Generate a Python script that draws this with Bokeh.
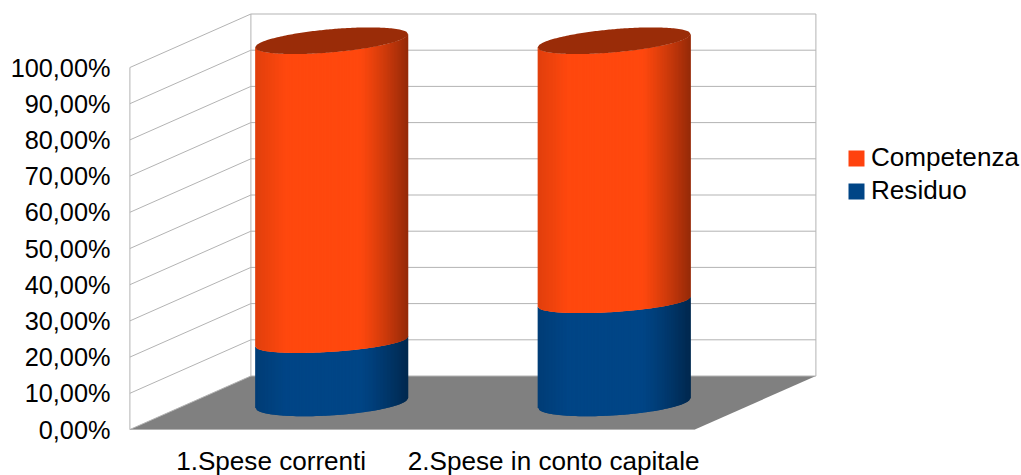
import math

from bokeh.embed import file_html
from bokeh.models import FixedTicker, Legend, LegendItem
from bokeh.plotting import figure
from bokeh.resources import INLINE

# Chart data (percent of each spending category)
categories = ["1.Spese correnti", "2.Spese in conto capitale"]
residuo = [16.9, 27.9]
competenza = [83.1, 72.1]
ticks = [0, 10, 20, 30, 40, 50, 60, 70, 80, 90, 100]
tick_labels = {t: f"{t},00%" for t in ticks}

ORANGE = (255, 72, 14)
BLUE = (0, 69, 134)
FLOOR = "#808080"
GRID = "#b3b3b3"
FONT = "Liberation Sans"
TICK_SIZE = "25.3px"
LABEL_SIZE = "26.1px"

# Oblique projection of the 3D box: a category is one x unit, depth 1 is the back wall
PX_PER_CAT = 282.5
PX_PER_PCT = 3.62
DEPTH_X = 121 / PX_PER_CAT
DEPTH_Y = 53.5 / PX_PER_PCT
RADIUS = 76.5 / PX_PER_CAT
N_CATS = len(categories)

# Rim ellipses, as (half rise from left tip to right tip, half minor axis) in screen pixels
RIM_BASE = (4.85, 12.6)
RIM_JOINT = (5.0, 10.2)
RIM_TOP = (6.6, 11.6)


def project(cat, pct, depth=0.0):
    return cat + depth * DEPTH_X, pct + depth * DEPTH_Y


W, H = 1021, 475
FRAME_LEFT = 110
ZERO_X, ZERO_Y = 129.4, 429
CATEGORY_ROW_PCT = -8.7  # category captions sit just under the floor

p = figure(
    width=W,
    height=H,
    output_backend="svg",
    toolbar_location=None,
    x_range=(0.5 + (FRAME_LEFT - ZERO_X) / PX_PER_CAT, 0.5 + (W - ZERO_X) / PX_PER_CAT),
    y_range=((ZERO_Y - H) / PX_PER_PCT, ZERO_Y / PX_PER_PCT),
    min_border_left=FRAME_LEFT,
    min_border_right=0,
    min_border_top=0,
    min_border_bottom=0,
    outline_line_color=None,
    background_fill_color="white",
    border_fill_color="white",
)
p.grid.visible = False
p.xaxis.visible = False

# Value axis
p.yaxis.ticker = FixedTicker(ticks=ticks)
p.yaxis.major_label_overrides = tick_labels
p.yaxis.axis_line_color = None
p.yaxis.major_tick_line_color = None
p.yaxis.minor_tick_line_color = None
p.yaxis.major_tick_in = 0
p.yaxis.major_tick_out = 0
p.yaxis.minor_tick_out = 0
p.yaxis.major_label_standoff = 0
p.yaxis.major_label_text_font = FONT
p.yaxis.major_label_text_font_size = TICK_SIZE
p.yaxis.major_label_text_color = "#000000"

# Category captions
cat_positions = list(range(1, N_CATS + 1))
p.text(
    x=cat_positions,
    y=[CATEGORY_ROW_PCT] * N_CATS,
    text=categories,
    text_font={"value": FONT},
    text_font_size={"value": LABEL_SIZE},
    text_color="#000000",
    text_align="center",
    text_baseline="middle",
)

# Floor of the box
x_lo, x_hi = 0.5, 0.5 + N_CATS
floor = [project(x_lo, 0), project(x_hi, 0), project(x_hi, 0, 1), project(x_lo, 0, 1)]
p.patch([c[0] for c in floor], [c[1] for c in floor], fill_color=FLOOR, line_color=None)
p.line(*zip(project(x_lo, 0), project(x_hi, 0)), line_color=GRID, line_width=1)

# Walls: horizontal rules on the back and side walls, plus the three verticals
for t in ticks:
    a, b, c = project(x_lo, t), project(x_lo, t, 1), project(x_hi, t, 1)
    p.line([a[0], b[0], c[0]], [a[1], b[1], c[1]], line_color=GRID, line_width=1)
for cat, depth in ((x_lo, 0), (x_lo, 1), (x_hi, 1)):
    a, b = project(cat, 0, depth), project(cat, 100, depth)
    p.line([a[0], b[0]], [a[1], b[1]], line_color=GRID, line_width=1)


def shade(base, t):
    """Cylinder lighting across the visible width, t from 0 (left) to 1 (right)."""
    if t < 0.2:
        k = 0.88 + 0.12 * (t / 0.2)
    elif t < 0.68:
        k = 1.0
    else:
        k = 1.0 - 0.42 * ((t - 0.68) / 0.32) ** 1.2
    return "#%02x%02x%02x" % tuple(int(round(c * k)) for c in base)


def rim(center_pct, dx, sign, shape):
    """Height of a tilted rim at offset dx; sign -1 is the near edge, +1 the far edge."""
    rise, minor = shape
    u = max(-1.0, min(1.0, dx / RADIUS))
    return center_pct + (rise * u + sign * minor * math.sqrt(1 - u * u)) / PX_PER_PCT


STRIPS = 110
for i, cat in enumerate(cat_positions):
    cx, base_pct = project(cat, 0, 0.5)
    level = base_pct
    segments = (
        (residuo[i], BLUE, RIM_BASE, RIM_JOINT),
        (competenza[i], ORANGE, RIM_JOINT, RIM_TOP),
    )
    for val, color, lower, upper in segments:
        xs, ys, fills = [], [], []
        for s in range(STRIPS):
            d0 = -RADIUS + 2 * RADIUS * s / STRIPS
            # strips reach under their right neighbour so no seams show
            d1 = -RADIUS + 2 * RADIUS * min(s + 2, STRIPS) / STRIPS
            xs.append([cx + d0, cx + d1, cx + d1, cx + d0])
            ys.append([
                rim(level, d0, -1, lower),
                rim(level, d1, -1, lower),
                rim(level + val, d1, -1, upper),
                rim(level + val, d0, -1, upper),
            ])
            fills.append(shade(color, (s + 0.5) / STRIPS))
        p.patches(xs, ys, fill_color=fills, line_color=None)
        level += val
    # Darker cap on top of the stack
    n_cap = 90
    offsets = [-RADIUS + 2 * RADIUS * j / n_cap for j in range(n_cap + 1)]
    cap_x = [cx + d for d in offsets] + [cx + d for d in reversed(offsets)]
    cap_y = [rim(level, d, -1, RIM_TOP) for d in offsets] + [rim(level, d, 1, RIM_TOP) for d in reversed(offsets)]
    p.patch(cap_x, cap_y, fill_color="#9a2c08", line_color=None)

# Legend keys: unplotted quads that only supply the swatch colours
nan = float("nan")
comp_key = p.quad(left=[nan], right=[nan], top=[nan], bottom=[nan], fill_color="#ff420e", line_color=None)
res_key = p.quad(left=[nan], right=[nan], top=[nan], bottom=[nan], fill_color="#004586", line_color=None)
legend = Legend(
    items=[LegendItem(label="Competenza", renderers=[comp_key]), LegendItem(label="Residuo", renderers=[res_key])],
    location=(846 - FRAME_LEFT, 269),
    orientation="vertical",
    glyph_width=20,
    glyph_height=20,
    spacing=2,
    padding=0,
    margin=0,
    label_standoff=5,
    label_text_font=FONT,
    label_text_font_size=LABEL_SIZE,
    label_text_color="#000000",
    background_fill_alpha=0,
    border_line_color=None,
)
p.add_layout(legend, "center")

open("out.html", "w").write(file_html(p, INLINE))
